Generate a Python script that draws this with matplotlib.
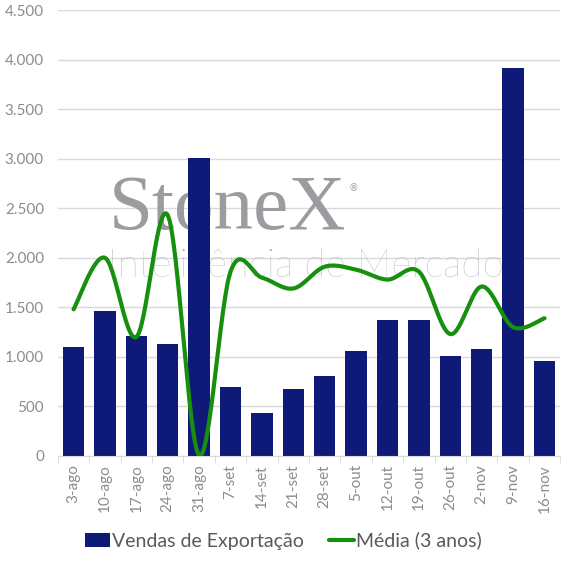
import numpy as np
import matplotlib
matplotlib.use("Agg")
import matplotlib.pyplot as plt
from matplotlib.ticker import FuncFormatter, FixedLocator

# semanas
categorias = ["3-ago", "10-ago", "17-ago", "24-ago", "31-ago", "7-set", "14-set", "21-set",
              "28-set", "5-out", "12-out", "19-out", "26-out", "2-nov", "9-nov", "16-nov"]
vendas = [1095, 1465, 1215, 1125, 3005, 700, 435, 675,
          810, 1055, 1370, 1375, 1010, 1080, 3915, 960]
media_3anos = [1480, 2000, 1200, 2430, 5, 1860, 1800, 1690,
               1910, 1880, 1780, 1860, 1230, 1710, 1300, 1390]

BAR_COLOR = "#0f1a78"
LINE_COLOR = "#17900f"
TEXT_COLOR = "#8c8c8c"
FONT = "Lato"


def smooth(xs, ys, n=30):
    # curva suavizada tipo Excel (Catmull-Rom / Bezier)
    xs = np.asarray(xs, float)
    ys = np.asarray(ys, float)
    px, py = [], []
    for i in range(len(xs) - 1):
        x0, y0 = (xs[i - 1], ys[i - 1]) if i > 0 else (xs[i], ys[i])
        x1, y1 = xs[i], ys[i]
        x2, y2 = xs[i + 1], ys[i + 1]
        x3, y3 = (xs[i + 2], ys[i + 2]) if i + 2 < len(xs) else (x2, y2)
        c1 = (x1 + (x2 - x0) / 6, y1 + (y2 - y0) / 6)
        c2 = (x2 - (x3 - x1) / 6, y2 - (y3 - y1) / 6)
        t = np.linspace(0, 1, n)
        bx = (1 - t) ** 3 * x1 + 3 * (1 - t) ** 2 * t * c1[0] + 3 * (1 - t) * t ** 2 * c2[0] + t ** 3 * x2
        by = (1 - t) ** 3 * y1 + 3 * (1 - t) ** 2 * t * c1[1] + 3 * (1 - t) * t ** 2 * c2[1] + t ** 3 * y2
        px.extend(bx)
        py.extend(by)
    return px, py


fig = plt.figure(figsize=(5.67, 5.67), dpi=100)
ax = fig.add_axes([0.102, 0.196, 0.886, 0.786])

x = np.arange(len(categorias))
bars = ax.bar(x, vendas, width=0.68, color=BAR_COLOR, zorder=2, label="Vendas de Exportação")
sx, sy = smooth(x, media_3anos)
line, = ax.plot(sx, sy, color=LINE_COLOR, lw=3, zorder=3, label="Média (3 anos)",
                solid_capstyle="round")

ax.set_xlim(-0.5, len(categorias) - 0.5)
ax.set_ylim(0, 4500)
ax.set_yticks(np.arange(0, 4501, 500))
ax.yaxis.set_major_formatter(FuncFormatter(lambda v, p: f"{int(v):,}".replace(",", ".")))
ax.grid(axis="y", color="#d9d9d9", lw=1)
ax.set_axisbelow(True)

ax.set_xticks(x)
ax.set_xticklabels(categorias, rotation=90, fontsize=11, color=TEXT_COLOR, family=FONT)
ax.tick_params(axis="x", length=0, pad=6)
ax.xaxis.set_minor_locator(FixedLocator(np.arange(-0.5, len(categorias), 1)))
ax.tick_params(axis="x", which="minor", length=5, color="#d9d9d9")
ax.tick_params(axis="y", length=0, labelsize=11, labelcolor=TEXT_COLOR, pad=10)
for lbl in ax.get_yticklabels():
    lbl.set_family(FONT)

for s in ["top", "right", "left"]:
    ax.spines[s].set_visible(False)
ax.spines["bottom"].set_color("#d9d9d9")

# marca d'agua
ax.text(0.102, 0.552, "StoneX", transform=ax.transAxes, fontsize=57, family="Liberation Serif",
        color="#9a9ca0", zorder=1, va="center", ha="left")
ax.text(0.578, 0.595, "®", transform=ax.transAxes, fontsize=7, color="#9a9ca0", zorder=1)
ax.text(0.10, 0.425, "Inteligência de Mercado", transform=ax.transAxes, fontsize=28,
        family="Lato", fontweight="light", color="#a8aaad", zorder=1, va="center", ha="left")

fig.legend([bars, line], ["Vendas de Exportação", "Média (3 anos)"],
           loc="lower center", bbox_to_anchor=(0.5, 0.0), ncol=2, frameon=False,
           prop={"family": FONT, "size": 14}, handlelength=1.3, handleheight=0.75,
           handletextpad=0.1, columnspacing=1.3, labelcolor="#595959")

fig.savefig("out.png", dpi=100)
